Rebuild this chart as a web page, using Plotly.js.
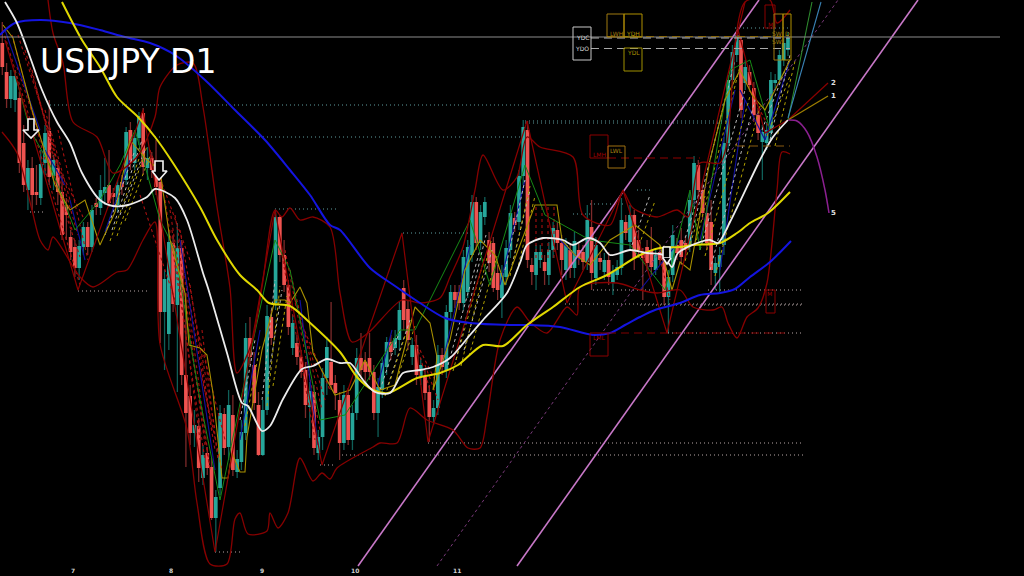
<!DOCTYPE html>
<html><head><meta charset="utf-8"><style>html,body{margin:0;padding:0;background:#000}#c{width:1024px;height:576px}</style>
<script src="https://cdn.plot.ly/plotly-3.0.1.min.js"></script></head><body><div id="c"></div>
<script>
// Chart units: horizontal and vertical positions (vertical axis runs downward).
const dir = ("ddUUddUddU"+"UdUdddddUU"+"dUdUUddUdU"+"dUUdUdddUU"+"dUdddUdUdd"+"UUdUdUUUdd"+"dUUdUdddUd"+"ddUdUUUddd"+"UdUUddddUU"+"UdUUddUdUd"+"dUUdUUddUU"+"UdUUdddUUU"+"dUUddUUdUU"+"ddUdUddUdU"+"dUdUUUdUdd"+"dddUddUUdd"+"dUUddddUUU"+"UUUdUdddUU"+"UUUUU").split("");
const bodyTop = [43,72,76,76,98,143,168,168,192,164, 133,131,160,168,192,205,237,247,246,227, 227,210,203,190,187,185,193,185,182,132,
130,138,116,113,158,158,163,182,279,242, 243,248,248,375,396,425,426,455,453,467, 497,413,414,405,415,459,432,338,338,365,
405,410,316,317,217,217,255,285,323,343, 357,370,391,392,437,378,347,362,383,400, 395,395,413,358,358,362,358,372,387,363,
342,342,338,310,288,309,345,345,365,377, 392,408,355,355,312,292,292,292,257,247, 202,202,212,202,240,243,273,273,248,213,
218,176,127,130,265,252,252,262,250,228, 230,243,245,250,241,250,252,220,227,245, 258,260,260,272,267,220,222,215,215,240,
253,247,250,255,252,257,277,235,245,240, 243,200,163,165,190,213,222,263,255,143, 80,52,35,40,67,72,88,115,132,130, 80,80,55,43,38];
const bodyBot = [67,99,99,100,163,185,190,195,195,198, 163,177,176,192,235,215,252,268,268,247, 247,247,207,208,193,203,197,205,187,180,
163,163,138,167,168,170,187,312,312,334, 304,305,375,413,433,433,468,478,468,518, 518,488,448,447,470,472,462,433,357,403,
455,455,410,338,303,255,285,327,348,357, 372,405,407,448,453,437,378,385,393,443, 443,440,440,413,370,372,372,413,413,390,
367,352,348,340,320,340,357,375,377,393, 417,417,408,367,370,312,300,303,303,292, 255,243,243,217,263,288,290,298,277,250,
225,222,176,260,272,275,260,271,275,250, 243,260,270,268,268,258,262,262,273,278, 262,272,277,283,275,268,233,242,258,250,
258,263,267,270,260,297,297,275,253,257, 250,245,200,190,213,243,270,273,267,245, 143,80,55,110,83,85,115,133,142,143, 133,83,80,60,50];
const wickTop = [22,63,70,70,92,125,160,157,165,150, 125,100,155,160,175,198,230,240,240,222, 222,205,198,175,158,150,188,180,175,127,
122,130,112,108,147,152,140,176,270,230, 235,223,240,293,385,410,418,445,447,458, 490,405,408,390,395,450,420,323,317,352,
392,400,305,310,210,215,240,280,315,335, 350,362,382,385,430,368,337,302,375,392, 385,388,405,348,333,352,333,365,378,357,
337,335,330,302,280,300,338,335,358,370, 385,400,345,348,305,285,285,285,250,240, 195,197,205,197,232,237,265,265,240,205,
212,170,120,121,258,245,245,255,242,222, 222,235,238,243,232,242,245,205,200,237, 252,253,252,265,260,198,215,205,210,230,
248,240,227,248,245,250,270,225,238,228, 236,192,156,160,183,205,200,257,247,137, 75,45,30,38,60,65,82,108,125,122, 72,74,50,38,32];
const wickBot = [75,108,108,112,173,192,210,210,205,205, 175,185,190,205,240,240,260,277,280,255, 255,252,215,215,205,207,205,212,195,185,
170,170,145,175,180,178,195,343,370,350, 312,392,385,467,445,447,482,485,475,520, 552,495,455,460,476,478,470,440,365,410,
456,456,415,345,310,262,292,335,355,365, 378,418,438,455,460,450,395,390,410,460, 450,445,450,420,378,385,380,420,437,398,
375,360,355,350,330,350,365,385,385,400, 442,425,415,375,378,320,308,310,310,298, 262,250,250,225,272,292,300,318,285,258,
232,230,185,268,285,290,268,285,285,258, 250,275,280,278,278,265,270,270,290,285, 270,280,285,295,280,275,240,250,270,258,
300,270,275,275,265,305,333,282,260,265, 258,252,207,197,220,250,285,290,292,255, 150,88,62,118,90,92,122,140,180,150, 140,90,85,66,56];

const maBlueX=[0,5,15,40,70,100,125,150,175,205,235,265,290,310,330,340,370,395,420,445,470,510,530,560,593,610,625,640,655,680,700,720,735,750,770,791];
const maBlueY=[35,30,23,20,23,30,37,43,55,80,110,140,170,195,225,230,268,286,303,318,323,325,325,327,335,333,325,317,310,303,295,293,289,277,262,241];
const maYellowX=[62,82,100,117,138,155,173,200,217,240,257,269,290,308,340,357,373,388,417,440,458,483,503,527,553,580,607,640,660,680,693,720,737,750,768,790];
const maYellowY=[2,40,67,97,117,137,163,207,240,275,290,303,306,321,352,377,390,393,378,373,365,345,346,325,307,287,275,255,248,247,245,243,233,223,213,192];
const maWhiteX=[5,17,30,42,57,70,82,100,113,128,147,155,175,187,203,208,227,242,248,262,270,283,302,313,327,340,350,363,375,390,403,420,433,450,470,483,507,520,527,543,563,573,588,600,610,630,647,663,672,678,700,710,718,730,760,773,788];
const maWhiteY=[2,23,57,90,122,143,173,200,206,205,197,189,198,220,273,288,353,403,406,431,426,399,369,366,359,363,363,380,392,393,373,370,367,358,335,320,293,263,245,238,240,245,238,243,255,250,253,255,267,253,242,240,243,222,160,137,120];

const bandUpX=[48,53,63,73,97,113,137,155,160,177,193,203,217,230,237,252,262,275,282,290,300,313,330,340,352,368,402,420,440,450,463,475,483,503,517,527,540,573,583,610,623,633,657,677,688,700,720,727,745,770,777,790];
const bandUpY=[0,33,63,122,137,173,157,117,87,65,63,107,207,288,373,342,287,210,217,208,220,217,227,293,342,333,300,303,298,277,247,190,155,190,177,137,147,157,215,225,192,208,217,210,217,163,163,143,2,0,23,10];
const bandLowX=[2,17,32,40,48,53,80,93,117,127,143,155,160,187,197,210,227,235,240,248,267,270,278,288,300,313,322,330,337,373,380,397,410,427,453,468,480,487,500,517,530,547,567,577,580,617,640,657,680,693,713,722,728,737,747,758,767,777,782,790];
const bandLowY=[132,153,210,240,250,237,277,287,272,270,240,222,344,429,503,564,564,519,513,534,531,513,528,513,458,481,473,479,468,447,443,443,408,420,430,448,448,417,340,307,322,333,307,315,287,283,290,293,290,307,310,307,323,338,317,308,283,190,152,154];
const zigzagX=[5,78,143,215,275,322,402,428,527,567,623,667,745];
const zigzagY=[40,290,110,552,210,465,233,442,121,303,190,333,2];
const zigzagEndX=[738,765,788]; const zigzagEndY=[30,133,120];

const fcast2X=[788,828], fcast2Y=[120,83];
const fcast1X=[788,828], fcast1Y=[120,96];
const fcast5X=[788,797,807,817,825,829], fcast5Y=[120,121,132,157,190,213];
const fanGreenX=[788,812], fanGreenY=[120,2];
const fanBlueX=[788,821], fanBlueY=[118,2];

const chanAX=[358,759], chanAY=[566,0];
const chanBX=[517,918], chanBY=[566,0];
const chanMidX=[437,838], chanMidY=[566,0];

const levelBlueX1=[50,155,525,525,275,403,590,573,637,735], levelBlueX2=[725,525,730,725,338,470,625,590,650,790], levelBlueY=[105,137,121,123,209,233,204,214,190,28];
const levelPaleX1=[78,30,215,320,342,428,708,565,640,593,668], levelPaleX2=[147,45,240,335,803,803,803,803,803,650,803], levelPaleY=[291,212,552,465,455,443,290,304,305,290,333];

const dashX1=[591,591,607,608,737,608], dashX2=[790,790,790,700,790,790], dashY=[38,48.5,36.5,158,146,333];
const dashCol=["#b0b0b0","#a8a8a8","#8a6a10","#900000","#8a5a10","#800000"];

const redFanX=[[3,80],[12,45],[18,55],[25,60],[17,80],[50,83],[45,70],[58,88],[165,205],[170,210],[175,215],[180,215],[190,212],[195,225],[172,200],[178,205],[184,210],[198,222],[202,218],[285,320],[290,322],[295,325],[300,330],[282,315],[415,430],[420,435],[425,438],[536,536],[542,542],[548,548],[554,554],[140,175],[150,190],[660,670],[745,770],[32,72],[36,78]];
const redFanY=[[30,285],[35,160],[35,150],[50,170],[67,257],[150,217],[110,200],[130,260],[200,460],[210,470],[215,450],[230,430],[285,430],[320,440],[230,440],[240,445],[270,470],[360,470],[330,460],[250,430],[270,410],[300,400],[320,390],[255,440],[340,390],[350,380],[365,400],[207,258],[207,258],[207,258],[207,258],[195,300],[150,260],[258,300],[80,130],[70,230],[90,235]];
const whiteFanX=[[105,135],[112,142],[120,145],[262,275],[268,282],[380,400],[388,410],[448,480],[456,486],[464,492],[505,525],[512,530],[690,735],[700,745],[710,755],[770,790],[762,785],[240,255],[680,700],[632,650]];
const whiteFanY=[[235,150],[230,140],[215,150],[400,280],[380,290],[390,330],[385,320],[365,250],[360,235],[350,250],[270,180],[265,190],[240,60],[250,90],[270,100],[140,55],[130,70],[420,340],[255,190],[245,195]];
const blueFanX=[[5,40],[45,65],[70,85],[105,130],[180,215],[240,260],[300,318],[378,392],[442,470],[500,525],[700,735],[720,745],[740,765],[765,790],[640,680],[560,580]];
const blueFanY=[[30,130],[150,185],[200,260],[232,160],[240,470],[440,330],[300,445],[385,330],[365,245],[285,180],[240,90],[270,100],[90,140],[140,60],[290,240],[240,260]];

const goldThinX=[3,13,32,55,70,85,100,115,130,147,160,170,185,189,200,207,213,222,228,232,240,245,247,262,275,285,290,300,307,313,320,335,350,365,380,395,415,430,437,433,450,465,480,495,505,520,535,557,562,575,590,610,635,660,672,680,690,710,725,740,752,765,790];
const goldThinY=[25,38,110,185,210,200,245,212,140,160,170,240,293,345,348,355,393,478,478,453,472,472,437,350,300,300,303,287,303,353,367,395,390,360,390,385,307,323,357,390,340,270,240,255,285,245,205,205,240,255,265,240,225,245,290,262,270,160,100,70,95,110,60];
const greenThinX=[14,30,50,75,100,120,135,160,175,200,220,250,275,290,320,345,400,415,470,490,525,545,590,630,665,690,700,730,750,770];
const greenThinY=[70,130,165,230,200,165,130,220,250,400,500,355,240,270,420,415,330,330,220,285,165,215,240,245,290,190,250,70,60,130];

const boxX1=[573,607,624,624,590,608,765,774,783,590,766], boxX2=[591,624,642,642,608,625,775,783,791,608,775], boxY1=[27,14,14,48,135,146,5,14,14,333,290], boxY2=[60,37,37,71,158,168,28,60,60,356,313];
const boxCol=["#c8c8c8","#a07a10","#b09000","#a09000","#8b0000","#a07010","#8b0000","#a07a10","#b09000","#8b0000","#8b0000"];
const labText=["YDC","YDO","LWH","YDH","YDL","LMH","LWL","LML","M","SW","SW","D","M"];
const labX=[582,582,616,633,633,599,616,599,770,777,777,787,769];
const labY=[37,48,33,33,52,154,150,337,24,33,41,33,293];
const labCol=["#d8d8d8","#d8d8d8","#a07a10","#b89800","#a89000","#a00000","#a88010","#a00000","#a00000","#a08010","#a08010","#b09000","#a00000"];
const monthText=["7","8","9","10","11"], monthX=[73,171,262,355,457];
const tagText=["2","1","5"], tagX=[833,833,833], tagY=[83,96,213];
const arrowA=[[31,28,28,23,31,39,34,34,31],[119,119,130,130,138,130,130,119,119]];
const arrowB=[[159,155,155,152,159,167,163,163,159],[161,161,171,171,180,171,171,161,161]];
const arrowC=[[663,670,670,663,663],[247,247,258,258,247]];
const arrowCtip=[[663,667,671],[258,264,258]];

const candleX = dir.map((_,i)=>2.3+4.27*i);
const pick=(arr,f)=>arr.filter((_,i)=>dir[i]===f);
const xs=f=>candleX.filter((_,i)=>dir[i]===f);
function bars(f,topA,botA,col,w){return {type:'bar',x:xs(f),base:pick(topA,f),y:pick(botA,f).map((b,i)=>b-pick(topA,f)[i]),width:w,marker:{color:col,line:{width:0}},hoverinfo:'skip',showlegend:false};}
function line(x,y,col,w,dash,shape){return {type:'scatter',mode:'lines',x:x,y:y,line:{color:col,width:w,dash:dash||'solid',shape:shape||'linear',smoothing:0.8},hoverinfo:'skip',showlegend:false,connectgaps:false};}
function segs(X,Y,col,w,dash){const a=[],b=[];X.forEach((s,i)=>{a.push(s[0],s[1],null);b.push(Y[i][0],Y[i][1],null);});return line(a,b,col,w,dash);}
function levels(x1,x2,y,col,w,dash){return segs(x1.map((v,i)=>[v,x2[i]]),y.map(v=>[v,v]),col,w,dash);}

const traces=[
 bars('U',wickTop,wickBot,'#0f5f58',1.3),
 bars('d',wickTop,wickBot,'#7d2a2a',1.3),
 bars('U',bodyTop,bodyBot,'#26A69A',3.7),
 bars('d',bodyTop,bodyBot,'#EF5350',3.7),
 segs(redFanX,redFanY,'#a81010',1.1,'dot'),
 segs(blueFanX,blueFanY,'#1010a0',1.1),
 segs(whiteFanX,whiteFanY,'#b8b8b8',1,'dot'),
 segs(whiteFanX.map(s=>[s[0]+5,s[1]+5]),whiteFanY.map(s=>[s[0]+6,s[1]+6]),'#b0a000',1,'dot'),
 line(greenThinX,greenThinY,'#168a16',1),
 line(goldThinX,goldThinY,'#a89000',1.1),
 levels(levelBlueX1,levelBlueX2,levelBlueY,'#5f9ea0',1,'1px 3px'),
 levels(levelPaleX1,levelPaleX2,levelPaleY,'#b8a8a8',1,'1px 3px'),
 line(chanMidX,chanMidY,'#7a3a7a',1,'dot'),
 line(chanAX,chanAY,'#c878c8',1.6),
 line(chanBX,chanBY,'#c878c8',1.6),
 line(zigzagX,zigzagY,'#8b0000',1.2),
 line(zigzagEndX,zigzagEndY,'#8b0000',1.2),
 line(bandUpX,bandUpY,'#860000',1.3,'solid','spline'),
 line(bandLowX,bandLowY,'#860000',1.3,'solid','spline'),
 line(maBlueX,maBlueY,'#1414e0',2,'solid','spline'),
 line(maYellowX,maYellowY,'#e0d800',2,'solid','spline'),
 line(maWhiteX,maWhiteY,'#ececec',1.8,'solid','spline'),
 line(fcast2X,fcast2Y,'#8b0000',1.2),
 line(fcast1X,fcast1Y,'#a08000',1.2),
 line(fcast5X,fcast5Y,'#8b2090',1.5,'solid','spline'),
 line(fanGreenX,fanGreenY,'#2e8b2e',1.1),
 line(fanBlueX,fanBlueY,'#3a82b4',1.1),
 line([0,1000],[37,37],'#8c8c8c',1.2),
];
dashY.forEach((y,i)=>traces.push(line([dashX1[i],dashX2[i]],[y,y],dashCol[i],1.2,'8px 5px')));
[arrowA,arrowB,arrowC,arrowCtip].forEach(a=>{const t=line(a[0],a[1],'#f4f4f4',1.6);t.fill='toself';t.fillcolor='rgba(0,0,0,1)';traces.push(t);});

const shapes=boxX1.map((x,i)=>({type:'rect',xref:'x',yref:'y',x0:x,x1:boxX2[i],y0:boxY1[i],y1:boxY2[i],line:{color:boxCol[i],width:1},fillcolor:'rgba(0,0,0,0)'}));
const ann=(t,x,y,col,size,extra)=>Object.assign({text:t,x:x,y:y,xref:'x',yref:'y',showarrow:false,xanchor:'center',yanchor:'middle',font:{family:'DejaVu Sans',size:size,color:col}},extra||{});
const annotations=[ann('USDJPY D1',38,61,'#ffffff',33,{xanchor:'left'})];
labText.forEach((t,i)=>annotations.push(ann(t,labX[i],labY[i],labCol[i],6)));
monthText.forEach((t,i)=>annotations.push(ann(t,monthX[i],570,'#d0d0d0',6,{font:{family:'DejaVu Sans',size:6,color:'#d0d0d0',weight:700}})));
tagText.forEach((t,i)=>annotations.push(ann(t,tagX[i],tagY[i],'#e0e0e0',7,{font:{family:'DejaVu Sans',size:7,color:'#e0e0e0',weight:700}})));

Plotly.newPlot('c',traces,{
 width:1024,height:576,margin:{l:0,r:0,t:0,b:0,pad:0},paper_bgcolor:'#000',plot_bgcolor:'#000',
 barmode:'overlay',showlegend:false,hovermode:false,
 xaxis:{range:[0,1024],visible:false,fixedrange:true},
 yaxis:{range:[576,0],visible:false,fixedrange:true},
 shapes:shapes,annotations:annotations
},{displayModeBar:false,staticPlot:true});
</script></body></html>
